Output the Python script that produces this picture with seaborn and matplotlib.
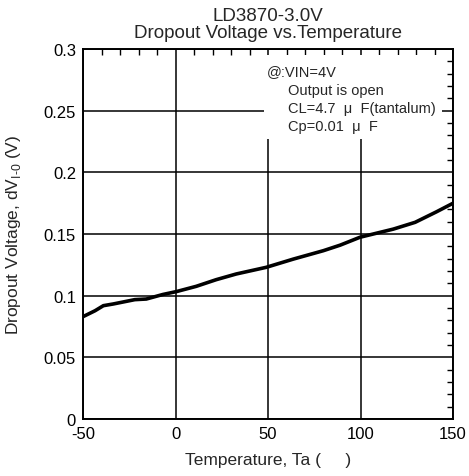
import numpy as np
import pandas as pd
import seaborn as sns
import matplotlib.pyplot as plt
from matplotlib.ticker import MultipleLocator
from matplotlib.patches import Rectangle

# Ta (deg C) vs dropout voltage (V)
temp = [-50, -43.5, -39, -33.6, -22, -15.8, -6.8, 0.4, 11.2, 22, 32.8, 49,
        63.7, 79.9, 89, 99.7, 117.7, 129.5, 141, 150]
dropout = [0.083, 0.0878, 0.0919, 0.0933, 0.0968, 0.0973, 0.101, 0.1033, 0.1076,
           0.113, 0.1176, 0.123, 0.1297, 0.1365, 0.141, 0.1474, 0.154, 0.1595,
           0.168, 0.175]

x_ticks = [-50, 0, 50, 100, 150]
y_ticks = [0, 0.05, 0.1, 0.15, 0.2, 0.25, 0.3]
y_labels = ['0', '0.05', '0.1', '0.15', '0.2', '0.25', '0.3']

cond_head = '@:VIN=4V'
cond_lines = ['Output is open', 'CL=4.7  \u03bc  F(tantalum)', 'Cp=0.01  \u03bc  F']

sns.set_style('white')
plt.rcParams['font.family'] = ['Liberation Sans', 'DejaVu Sans']
plt.rcParams['mathtext.fontset'] = 'custom'
plt.rcParams['mathtext.rm'] = 'Liberation Sans'
plt.rcParams['axes.unicode_minus'] = False

df = pd.DataFrame({'Ta': temp, 'dV': dropout})

fig, ax = plt.subplots(figsize=(4.69, 4.77), dpi=100)
fig.subplots_adjust(left=0.177, right=0.966, top=0.895, bottom=0.1195)

sns.lineplot(data=df, x='Ta', y='dV', color='black', linewidth=2.6, ax=ax, zorder=5)

ax.set_xlim(-50, 150)
ax.set_ylim(0, 0.3)
ax.set_xticks(x_ticks)
ax.set_yticks(y_ticks)
ax.set_yticklabels(y_labels)
ax.xaxis.set_minor_locator(MultipleLocator(10))
ax.yaxis.set_minor_locator(MultipleLocator(0.01))
ax.tick_params(which='both', direction='in', top=True, right=True, colors='black',
               labelsize=12)
ax.tick_params(which='major', length=0, pad=5)
ax.tick_params(which='minor', length=4, width=1)
ax.grid(True, which='major', color='black', linewidth=1.1)
for s in ax.spines.values():
    s.set_color('black')
    s.set_linewidth(1.4)
    s.set_zorder(6)

# white box behind the test conditions
ax.add_patch(Rectangle((0.489, 0.757), 0.48, 0.228, transform=ax.transAxes,
                       facecolor='white', edgecolor='none', zorder=3))
ax.text(0.497, 0.9405, cond_head, transform=ax.transAxes, fontsize=10.5,
        va='center', zorder=4)
for i, line in enumerate(cond_lines):
    ax.text(0.555, 0.889 - i * 0.049, line, transform=ax.transAxes, fontsize=10.5,
            va='center', zorder=4)

ax.set_xlabel('Temperature, Ta (     )', fontsize=12.5, labelpad=8)
ax.set_ylabel(r'Dropout Voltage, dV$_{\mathrm{I\text{-}0}}$ (V)', fontsize=12.5)
ax.yaxis.set_label_coords(-0.162, 0.5)
ax.set_title('LD3870-3.0V\nDropout Voltage vs.Temperature', fontsize=13.5,
             linespacing=1.0, pad=9)

plt.savefig('out.png', dpi=100)
